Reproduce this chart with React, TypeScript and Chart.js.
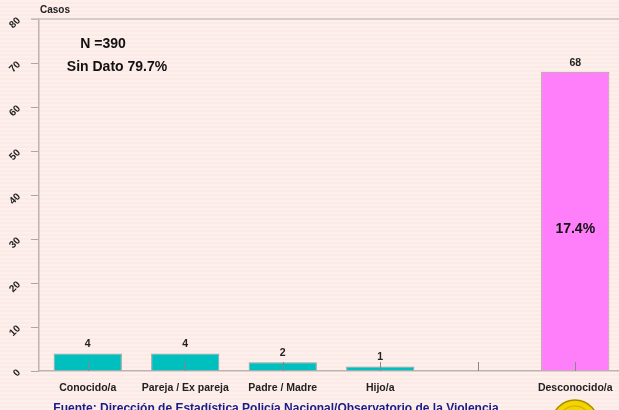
import React, { useEffect, useRef } from "react";
import { Chart, registerables } from "chart.js";

Chart.register(...registerables);

const categories = ["Conocido/a", "Pareja / Ex pareja", "Padre / Madre", "Hijo/a", "", "Desconocido/a"];
const values: (number | null)[] = [4, 4, 2, 1, null, 68];
const barColors = ["#00bfbf", "#00bfbf", "#00bfbf", "#00bfbf", "#00bfbf", "#ff7ef9"];
const yTicks = [0, 10, 20, 30, 40, 50, 60, 70, 80];
const insideLabel = "17.4%";
const insideIndex = 5;
const noteN = "N =390";
const noteSinDato = "Sin Dato 79.7%";
const yTitle = "Casos";
const footer = "Fuente: Dirección de Estadística Policía Nacional/Observatorio de la Violencia";

const FONT = "'Liberation Sans', Arial, sans-serif";

const overlay = {
  id: "overlay",
  afterDatasetsDraw(chart: any) {
    const ctx = chart.ctx;
    const x = chart.scales.x;
    const area = chart.chartArea;
    ctx.save();
    // top line
    ctx.strokeStyle = "#cdbfbc";
    ctx.lineWidth = 1.5;
    ctx.beginPath();
    ctx.moveTo(31, area.top);
    ctx.lineTo(chart.width, area.top);
    ctx.stroke();
    // x ticks pointing into chart
    ctx.strokeStyle = "#888";
    ctx.lineWidth = 1;
    categories.forEach((_, i) => {
      const px = Math.round(x.getPixelForTick(i)) + 0.5;
      ctx.beginPath();
      ctx.moveTo(px, area.bottom - 9);
      ctx.lineTo(px, area.bottom);
      ctx.stroke();
    });
    // value labels
    ctx.fillStyle = "#222";
    ctx.font = `bold 10.5px ${FONT}`;
    ctx.textAlign = "center";
    ctx.textBaseline = "middle";
    const meta = chart.getDatasetMeta(0);
    values.forEach((v, i) => {
      if (v == null) return;
      const el = meta.data[i];
      ctx.fillText(String(v), el.x, el.y - 9);
    });
    // inside label
    const el = meta.data[insideIndex];
    ctx.font = `bold 14px ${FONT}`;
    ctx.fillStyle = "#111";
    ctx.fillText(insideLabel, el.x, (el.y + el.base) / 2 + 8);
    // notes
    ctx.font = `bold 14px ${FONT}`;
    ctx.fillText(noteN, 103, 44);
    ctx.fillText(noteSinDato, 117, 67);
    // y title
    ctx.font = `bold 10px ${FONT}`;
    ctx.textAlign = "left";
    ctx.fillStyle = "#222";
    ctx.fillText(yTitle, 40, 10);
    // footer
    ctx.fillStyle = "#1b1b8a";
    ctx.font = `bold 12px ${FONT}`;
    ctx.textAlign = "center";
    ctx.fillText(footer, 276, 409);
    // logo
    ctx.beginPath();
    ctx.arc(575, 423, 23, 0, Math.PI * 2);
    ctx.fillStyle = "#f2d400";
    ctx.fill();
    ctx.lineWidth = 1.5;
    ctx.strokeStyle = "#a88c00";
    ctx.stroke();
    ctx.beginPath();
    ctx.arc(575, 423, 17, 0, Math.PI * 2);
    ctx.lineWidth = 1;
    ctx.strokeStyle = "#c9a800";
    ctx.stroke();
    ctx.restore();
  },
};

export default function App() {
  const ref = useRef<HTMLCanvasElement>(null);
  useEffect(() => {
    const chart = new Chart(ref.current!, {
      type: "bar",
      data: {
        labels: categories,
        datasets: [
          {
            data: values,
            backgroundColor: barColors,
            borderColor: "#a89a98",
            borderWidth: 1,
            barPercentage: 0.7,
            categoryPercentage: 1,
          },
        ],
      },
      options: {
        responsive: false,
        animation: false,
        events: [],
        layout: { padding: { top: 19, left: 0, right: 0, bottom: 0 } },
        plugins: { legend: { display: false }, tooltip: { enabled: false }, title: { display: false } },
        scales: {
          x: {
            grid: { display: false, drawTicks: false },
            border: { display: true, color: "#bfb3b0", width: 1.5 },
            ticks: { color: "#222", font: { family: FONT, size: 10.5, weight: "bold" }, padding: 11, maxRotation: 0, autoSkip: false },
            afterFit: (s: any) => { s.height = 39; },
          },
          y: {
            min: 0,
            max: 80,
            afterBuildTicks: (s: any) => { s.ticks = yTicks.map((v) => ({ value: v })); },
            grid: { drawOnChartArea: false, tickLength: 8, color: "#a9a9a9" },
            border: { display: true, color: "#bfb3b0", width: 1.5 },
            ticks: { color: "#222", font: { family: FONT, size: 10, weight: "bold" }, padding: 12, minRotation: 45, maxRotation: 45 },
            afterFit: (s: any) => { s.width = 39; },
          },
        },
      },
      plugins: [overlay],
    });
    return () => chart.destroy();
  }, []);
  return (
    <div
      style={{
        position: "absolute",
        left: 0,
        top: 0,
        width: 619,
        height: 410,
        overflow: "hidden",
        background: "repeating-linear-gradient(to bottom, #fdefeb 0px, #fdefeb 2px, #fceae6 2px, #fceae6 4px)",
      }}
    >
      <canvas ref={ref} width={624} height={410} style={{ display: "block" }} />
    </div>
  );
}
